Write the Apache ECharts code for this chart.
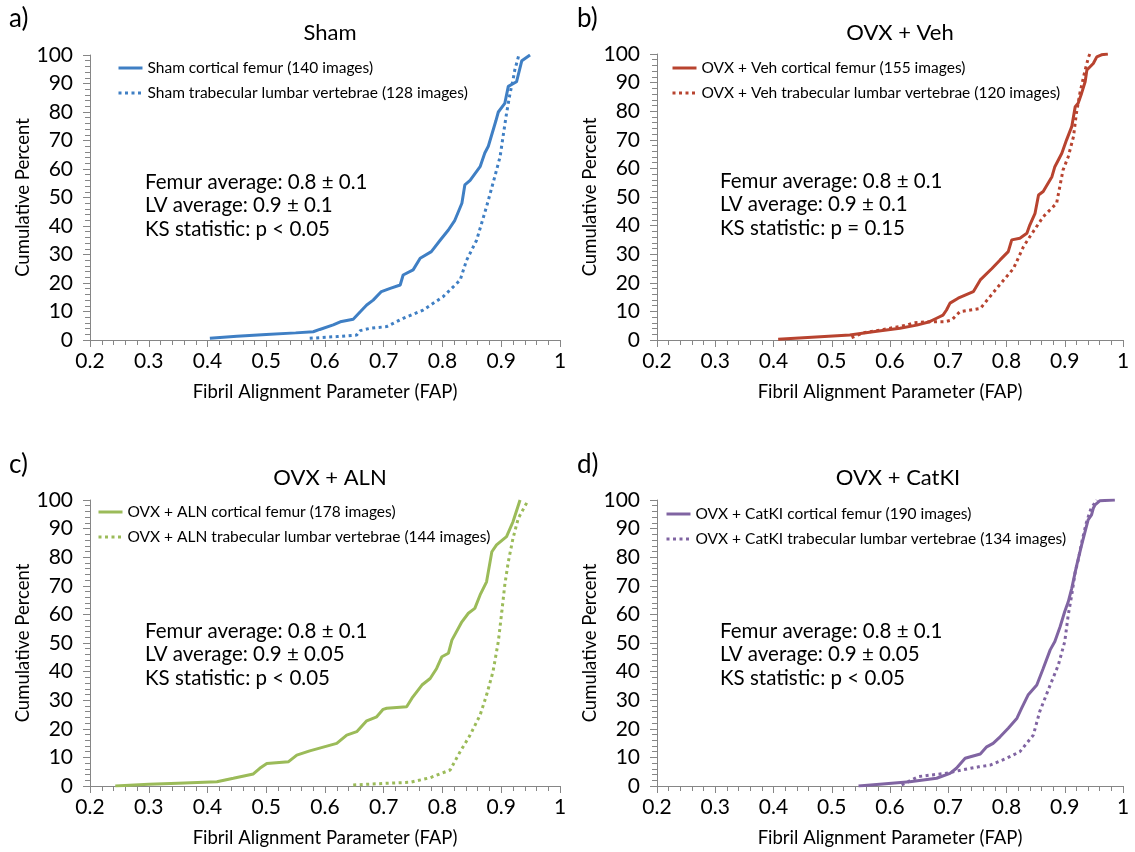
<!DOCTYPE html>
<html><head><meta charset="utf-8">
<script src="https://cdn.jsdelivr.net/npm/echarts@6/dist/echarts.min.js"></script>
<style>html,body{margin:0;padding:0;background:#fff}#c{width:1135px;height:852px}</style>
</head><body><div id="c"></div>
<script>
// ---- data (FAP value, cumulative percent) ----
var shamFemurX = [0.404,0.45,0.50,0.55,0.58,0.591,0.614,0.626,0.648,0.66,0.671,0.682,0.696,0.711,0.728,0.733,0.75,0.762,0.781,0.796,0.81,0.821,0.833,0.838,0.847,0.864,0.872,0.878,0.891,0.895,0.906,0.912,0.926,0.935,0.949];
var shamFemurY = [0.6,1.3,1.9,2.5,2.9,3.7,5.3,6.4,7.3,9.9,12.3,14,17,18.1,19.3,22.8,24.6,28.7,31,35,38.6,42,48,54.4,56,60.8,65.6,68,77,80,83,89,90.6,98,100];
var shamLVX = [0.574,0.62,0.654,0.66,0.677,0.705,0.733,0.767,0.801,0.83,0.841,0.858,0.875,0.889,0.898,0.903,0.909,0.915,0.92,0.923,0.926,0.93];
var shamLVY = [0.6,1.2,1.75,3.3,4.1,4.7,7.6,10.5,15.2,21,28,35,46.8,57.3,64.3,71.3,79.5,86.6,91.2,94.7,97,100];

var vehFemurX = [0.408,0.531,0.571,0.617,0.646,0.668,0.68,0.691,0.697,0.703,0.717,0.743,0.755,0.775,0.789,0.803,0.809,0.823,0.835,0.84,0.849,0.855,0.863,0.878,0.883,0.895,0.903,0.912,0.918,0.923,0.929,0.935,0.938,0.949,0.955,0.963,0.974];
var vehFemurY = [0.25,1.75,2.9,4.1,5.2,6.4,7.6,8.7,10.5,12.9,14.6,16.9,21,25,28,30.9,35,35.6,37.3,40.2,44.3,50.7,51.9,57.1,60.6,65.3,69.9,74.6,81.6,82.8,86.3,90.3,94.4,96.7,99,99.7,100];
var vehLVX = [0.534,0.554,0.589,0.629,0.64,0.663,0.694,0.706,0.72,0.755,0.783,0.812,0.829,0.84,0.863,0.886,0.897,0.906,0.915,0.92,0.926,0.935,0.941,0.943];
var vehLVY = [0.8,2.5,3.7,5.2,6,6.4,6.4,7,9.9,11,18,25,32.6,36.1,43.1,47.8,59.4,64.1,71.1,79.3,86.3,94.4,99,100];

var alnFemurX = [0.243,0.30,0.35,0.416,0.444,0.478,0.489,0.501,0.538,0.552,0.574,0.62,0.637,0.654,0.671,0.688,0.699,0.705,0.739,0.748,0.765,0.779,0.79,0.799,0.81,0.816,0.833,0.844,0.855,0.864,0.875,0.884,0.892,0.909,0.92,0.932];
var alnFemurY = [0,0.6,1.0,1.5,2.7,4.2,6.2,7.9,8.5,10.8,12.3,14.9,17.8,19,22.8,24.2,26.8,27.2,27.7,30.7,35.3,37.6,41.1,45.2,46.4,51,57.4,60.4,62.1,66.8,71.4,81.9,84.3,87.2,92.4,100];
var alnLVX = [0.648,0.699,0.745,0.779,0.813,0.83,0.847,0.864,0.875,0.886,0.895,0.901,0.906,0.912,0.92,0.929,0.946];
var alnLVY = [0.35,0.9,1.3,2.9,5.6,12,17.8,24.8,31.8,40,50.5,61,70.3,78.4,86.6,93.6,100];

var catFemurX = [0.546,0.634,0.68,0.703,0.714,0.729,0.755,0.766,0.777,0.789,0.803,0.818,0.826,0.837,0.852,0.863,0.875,0.883,0.892,0.9,0.906,0.912,0.92,0.929,0.935,0.94,0.946,0.949,0.952,0.96,0.986];
var catFemurY = [0,1.5,2.7,4.4,6.2,9.7,11.2,13.7,14.9,17.2,20.2,23.7,27.2,31.8,35.3,41.1,47.6,50.5,55.7,61,64.4,69.1,76.7,84.3,89,93,94.8,97.1,98.3,99.7,100];
var catLVX = [0.62,0.637,0.649,0.669,0.694,0.703,0.723,0.752,0.772,0.8,0.823,0.846,0.857,0.875,0.889,0.9,0.906,0.912,0.918,0.922,0.93,0.937,0.945,0.955];
var catLVY = [0.35,2.1,3.3,3.8,4.4,4.7,5.6,6.7,7.3,9.7,12,17.8,26,35.3,42.3,50.5,59.8,66.8,74.9,78,86,92,97,100];

var panelTitles = ["Sham","OVX + Veh","OVX + ALN","OVX + CatKI"];
var panelLetters = ["a)","b)","c)","d)"];
var femurNames = ["Sham cortical femur (140 images)","OVX + Veh cortical femur (155 images)","OVX + ALN cortical femur (178 images)","OVX + CatKI cortical femur (190 images)"];
var lvNames = ["Sham trabecular lumbar vertebrae (128 images)","OVX + Veh trabecular lumbar vertebrae (120 images)","OVX + ALN trabecular lumbar vertebrae (144 images)","OVX + CatKI trabecular lumbar vertebrae (134 images)"];
var statsText = [
  ["Femur average: 0.8 \u00b1 0.1","LV average: 0.9 \u00b1 0.1","KS statistic: p < 0.05"],
  ["Femur average: 0.8 \u00b1 0.1","LV average: 0.9 \u00b1 0.1","KS statistic: p = 0.15"],
  ["Femur average: 0.8 \u00b1 0.1","LV average: 0.9 \u00b1 0.05","KS statistic: p < 0.05"],
  ["Femur average: 0.8 \u00b1 0.1","LV average: 0.9 \u00b1 0.05","KS statistic: p < 0.05"]
];
var xTickMin = 0.2, xTickMax = 1, xTickStep = 0.1;
var yTickMin = 0, yTickMax = 100, yTickStep = 10;

var femurX = [shamFemurX, vehFemurX, alnFemurX, catFemurX];
var femurY = [shamFemurY, vehFemurY, alnFemurY, catFemurY];
var lvX = [shamLVX, vehLVX, alnLVX, catLVX];
var lvY = [shamLVY, vehLVY, alnLVY, catLVY];
var colors = ["#3F7FC4","#B8432F","#9BBB59","#8064A2"];

// ---- layout ----
var FONT = "Lato";
var grids = [
  {left:90, top:55, width:470, height:285},
  {left:657, top:54, width:466, height:286},
  {left:90, top:500, width:470, height:286},
  {left:657, top:500, width:466, height:286}
];
var legendPos = [{left:112,top:55},{left:666,top:55},{left:92,top:499},{left:660,top:501}];
var statsPos = [{x:145,y:185},{x:720,y:184},{x:145,y:634},{x:720,y:634}];
var titlePos = [{x:325,y:17},{x:895,y:17},{x:325,y:462},{x:893,y:462}];
var letterPos = [{x:9,y:6},{x:577,y:6},{x:9,y:452},{x:577,y:452}];

function zip(a,b){ return a.map(function(v,i){ return [v,b[i]]; }); }

var axisGray = "#868686";
var option = {
  animation:false,
  backgroundColor:"#fff",
  textStyle:{fontFamily:FONT},
  title:[], grid:[], xAxis:[], yAxis:[], series:[], legend:[], graphic:[]
};
for (var i=0;i<4;i++){
  option.grid.push(grids[i]);
  option.title.push({text:panelTitles[i], left:titlePos[i].x, top:titlePos[i].y, textAlign:"center",
    textStyle:{fontFamily:FONT, fontSize:22, fontWeight:"normal", color:"#000"}});
  option.xAxis.push({type:"value", gridIndex:i, min:xTickMin, max:xTickMax, interval:xTickStep,
    name:"Fibril Alignment Parameter (FAP)", nameLocation:"middle", nameGap:43,
    nameTextStyle:{fontFamily:FONT, fontSize:18.5, color:"#000"},
    axisLine:{lineStyle:{color:axisGray, width:1}},
    axisTick:{show:true, length:7, lineStyle:{color:axisGray}},
    minorTick:{show:true, splitNumber:5, length:5, lineStyle:{color:axisGray}},
    splitLine:{show:false},
    axisLabel:{fontFamily:FONT, fontSize:21, color:"#000", margin:11,
      formatter:function(v){ return String(+v.toFixed(1)); }}
  });
  option.yAxis.push({type:"value", gridIndex:i, min:yTickMin, max:yTickMax, interval:yTickStep,
    name:"Cumulative Percent", nameLocation:"middle", nameGap:52,
    nameTextStyle:{fontFamily:FONT, fontSize:18.5, color:"#000"},
    axisLine:{show:true, lineStyle:{color:axisGray, width:1}},
    axisTick:{show:true, length:7, lineStyle:{color:axisGray}},
    minorTick:{show:true, splitNumber:5, length:5, lineStyle:{color:axisGray}},
    splitLine:{show:false},
    axisLabel:{fontFamily:FONT, fontSize:21, color:"#000", margin:17}
  });
  option.series.push({type:"line", name:lvNames[i], xAxisIndex:i, yAxisIndex:i,
    data:zip(lvX[i], lvY[i]), showSymbol:false, symbol:"none", color:colors[i],
    lineStyle:{color:colors[i], width:3, type:[3,3.5], cap:"butt"}});
  option.series.push({type:"line", name:femurNames[i], xAxisIndex:i, yAxisIndex:i,
    data:zip(femurX[i], femurY[i]), showSymbol:false, symbol:"none", color:colors[i],
    lineStyle:{color:colors[i], width:3, type:"solid"}, z:3});
  option.legend.push({left:legendPos[i].left, top:legendPos[i].top, orient:"vertical",
    data:[femurNames[i], lvNames[i]], itemWidth:24, itemHeight:14, itemGap:9,
    itemStyle:{color:"rgba(0,0,0,0)", borderWidth:0, opacity:0},
    lineStyle:{width:3},
    textStyle:{fontFamily:FONT, fontSize:15.5, color:"#000"}});
  for (var k=0;k<3;k++){
    option.graphic.push({type:"text", left:statsPos[i].x, top:statsPos[i].y - 13 + k*23.3,
      style:{text:statsText[i][k], font:"20.5px " + FONT, fill:"#000"}});
  }
  option.graphic.push({type:"text", left:letterPos[i].x, top:letterPos[i].y,
    style:{text:panelLetters[i], font:"26px " + FONT, fill:"#000"}});
}
var chart = echarts.init(document.getElementById("c"), null, {renderer:"canvas"});
chart.setOption(option);
</script></body></html>
